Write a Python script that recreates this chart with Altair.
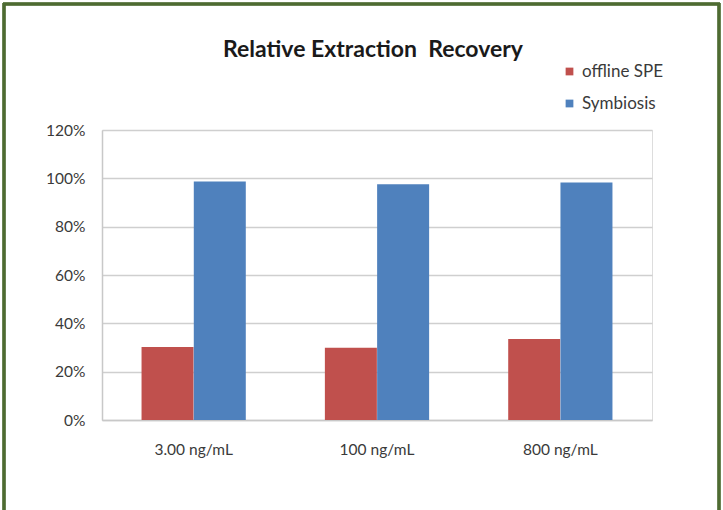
import altair as alt
import pandas as pd

title_text = "Relative Extraction\u00a0 Recovery"
categories = ["3.00 ng/mL", "100 ng/mL", "800 ng/mL"]
series_names = ["offline SPE", "Symbiosis"]
offline_spe = [0.302, 0.299, 0.335]
symbiosis = [0.987, 0.976, 0.983]
colors = ["#C0504D", "#4F81BD"]
y_ticks = [0, 0.2, 0.4, 0.6, 0.8, 1.0, 1.2]

rows = []
for c, a, b in zip(categories, offline_spe, symbiosis):
    rows.append({"conc": c, "series": series_names[0], "value": a})
    rows.append({"conc": c, "series": series_names[1], "value": b})
df = pd.DataFrame(rows)

FONT = "Lato"
LABEL = "#3a3a3a"
FS = 15.5

bars = alt.Chart(df).mark_bar(size=52).encode(
    x=alt.X("conc:N", sort=categories, title=None,
            scale=alt.Scale(paddingInner=0.43, paddingOuter=0.215),
            axis=alt.Axis(labelAngle=0, labelFontSize=FS, labelColor=LABEL, labelFont=FONT,
                          ticks=False, domain=True, domainColor="#c8c8c8", domainWidth=1.5,
                          labelPadding=22, grid=False)),
    xOffset=alt.XOffset("series:N", sort=series_names,
                        scale=alt.Scale(paddingInner=0, paddingOuter=0)),
    y=alt.Y("value:Q", title=None,
            scale=alt.Scale(domain=[0, 1.2], nice=False),
            axis=alt.Axis(values=y_ticks, format=".0%", labelFontSize=FS, labelColor=LABEL,
                          labelFont=FONT, ticks=False, domain=True, domainColor="#c8c8c8",
                          domainWidth=1.5, labelPadding=17, grid=True, gridColor="#cfcfcf",
                          gridWidth=1.5)),
    color=alt.Color("series:N", sort=series_names,
                    scale=alt.Scale(domain=series_names, range=colors),
                    legend=alt.Legend(title=None, orient="none", legendX=459, legendY=-67,
                                      symbolType="square", symbolSize=60, symbolStrokeWidth=0,
                                      labelFontSize=17, labelFont=FONT, labelColor=LABEL,
                                      rowPadding=14, labelOffset=4)),
)

title_mark = alt.Chart(pd.DataFrame({"t": [title_text]})).mark_text(
    font=FONT, fontSize=23, fontWeight="bold", color="#1a1a1a",
    align="center", baseline="alphabetic", clip=False,
).encode(text="t:N", x=alt.value(271), y=alt.value(-73))

border_color = "#4e6b31"
top_border = alt.Chart(df).mark_rule(color=border_color, strokeWidth=2.5, clip=False).encode(
    x=alt.value(-99), x2=alt.value(618), y=alt.value(-126))
left_border = alt.Chart(df).mark_rule(color=border_color, strokeWidth=2.5, clip=False).encode(
    x=alt.value(-98), y=alt.value(-127), y2=alt.value(385))
right_border = alt.Chart(df).mark_rule(color=border_color, strokeWidth=2.5, clip=False).encode(
    x=alt.value(617), y=alt.value(-127), y2=alt.value(385))

chart = alt.layer(bars, title_mark, top_border, left_border, right_border).properties(
    width=550, height=290,
    autosize=alt.AutoSizeParams(type="none"),
    padding={"left": 102, "top": 130, "right": 71, "bottom": 90},
).configure_view(stroke=None).configure(background="white")

chart.save("out.html", embed_options={"renderer": "svg", "actions": False})
